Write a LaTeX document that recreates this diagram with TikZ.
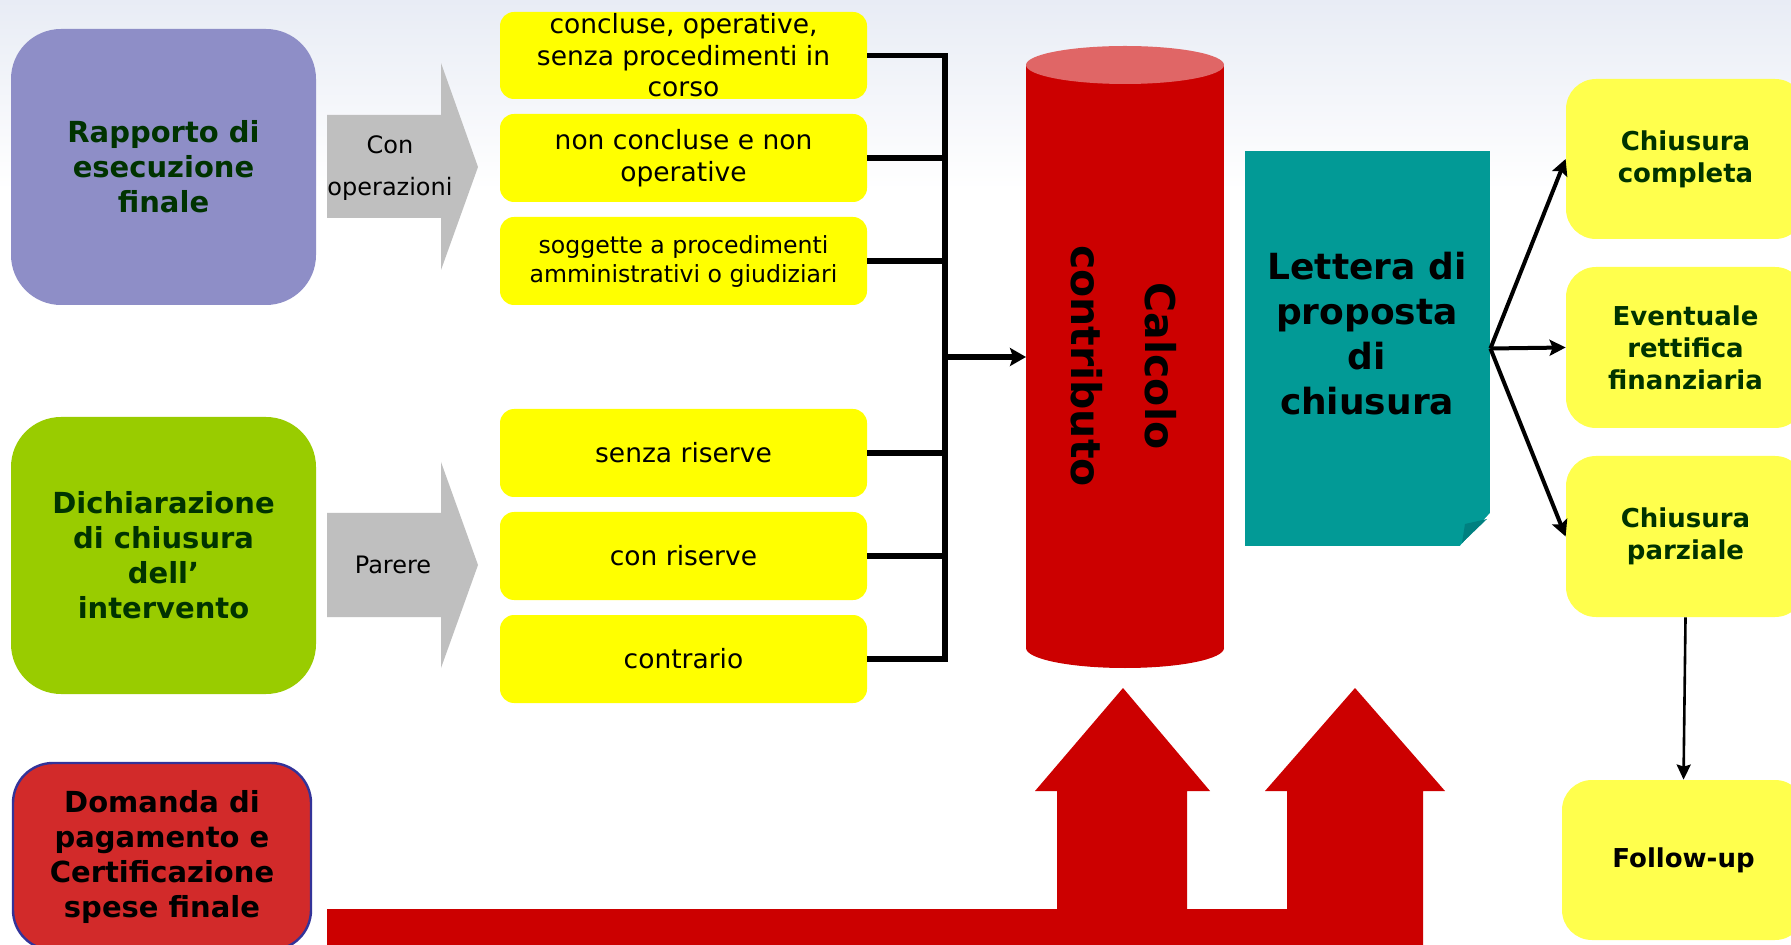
\documentclass[tikz,border=0pt]{standalone}
\usepackage{fontspec}
\setmainfont{DejaVu Sans}
\usetikzlibrary{arrows.meta}
\definecolor{purp}{RGB}{142,142,199}
\definecolor{grn}{RGB}{153,204,0}
\definecolor{redbox}{RGB}{210,42,42}
\definecolor{redborder}{RGB}{51,51,153}
\definecolor{ylw}{RGB}{255,255,0}
\definecolor{ylw2}{RGB}{255,255,77}
\definecolor{dkgreen}{RGB}{0,51,0}
\definecolor{grayarr}{RGB}{191,191,191}
\definecolor{cylred}{RGB}{204,0,0}
\definecolor{cyltop}{RGB}{224,102,102}
\definecolor{teal2}{RGB}{2,154,150}
\definecolor{tealdk}{RGB}{0,128,128}
\definecolor{bgtop}{RGB}{232,236,245}
\begin{document}
\begin{tikzpicture}[x=0.5pt,y=-0.5pt,
  bigbox/.style={rounded corners=25pt, inner sep=0pt, minimum width=152.5pt, align=center,
    font=\fontsize{14.5}{17.5}\selectfont\bfseries, text=dkgreen},
  ybox/.style={fill=ylw, rounded corners=7pt, inner sep=0pt, minimum width=183.5pt,
    minimum height=44pt, align=center, font=\fontsize{13.25}{16}\selectfont},
  rbox/.style={fill=ylw2, rounded corners=15pt, inner sep=0pt, minimum width=119.5pt,
    minimum height=80pt, align=center, font=\fontsize{13}{16}\selectfont\bfseries, text=dkgreen},
  link/.style={line width=2.8pt, line join=miter},
  outarrow/.style={line width=2pt, -{Stealth[length=8pt,width=8pt,inset=1.5pt]}},
]
\useasboundingbox (0,0) rectangle (1791,945);
\fill[white] (0,0) rectangle (1791,945);
\shade[top color=bgtop, bottom color=white] (0,0) rectangle (1791,190);

% left boxes
\node[bigbox, fill=purp, minimum height=138pt] (rap) at (163.5,167) {Rapporto di\\esecuzione\\finale};
\node[bigbox, fill=grn, minimum height=138.5pt] (dic) at (163.5,555.5) {Dichiarazione\\di chiusura\\dell’\\intervento};
\node[bigbox, fill=redbox, draw=redborder, line width=1.2pt, rounded corners=20pt,
  minimum width=149pt, minimum height=93.5pt, text=black] (dom) at (162,856.5)
  {Domanda di\\pagamento e\\Certificazione\\spese finale};

% gray arrows
\fill[grayarr] (327,115) -- (441,115) -- (441,63) -- (478,167) -- (441,270) -- (441,218) -- (327,218) -- cycle;
\node[font=\fontsize{12}{21}\selectfont, align=center, inner sep=0pt] (con) at (390,168) {Con\\operazioni};
\fill[grayarr] (327,513) -- (441,513) -- (441,462) -- (478,565) -- (441,668) -- (441,617) -- (327,617) -- cycle;
\node[font=\fontsize{12}{14}\selectfont, inner sep=0pt] (par) at (393,565) {Parere};

% yellow boxes
\node[ybox, font=\fontsize{13.25}{15.75}\selectfont, minimum height=43.5pt] (b1) at (683.5,55.5) {concluse, operative,\\senza procedimenti in\\corso};
\node[ybox] (b2) at (683.5,158) {non concluse e non\\operative};
\node[ybox, font=\fontsize{11.8}{14.5}\selectfont] (b3) at (683.5,261) {soggette a procedimenti\\amministrativi o giudiziari};
\node[ybox] (b4) at (683.5,453) {senza riserve};
\node[ybox] (b5) at (683.5,556) {con riserve};
\node[ybox] (b6) at (683.5,659) {contrario};

% bracket
\coordinate (bx) at (945,357);
\coordinate (cylL) at (1026,357);
\draw[link] (b1.east) -| (bx |- b6.east) -- (b6.east);
\foreach \b in {b2,b3,b4,b5} \draw[link] (\b.east) -- (bx |- \b.east);
\draw[line width=2.8pt, -{Stealth[length=8pt,width=9pt,inset=1.5pt]}] (bx) -- (cylL);

% cylinder
\fill[cylred] (1026,65) rectangle (1224,648);
\fill[cylred] (1125,648) ellipse [x radius=49.5pt, y radius=10pt];
\fill[cyltop] (1125,65) ellipse [x radius=49.5pt, y radius=9.5pt];
\node[rotate=-90, font=\fontsize{20.5}{37}\selectfont\bfseries, align=center, inner sep=0pt] (calc) at (1124,366) {Calcolo\\contributo};

% lettera
\node[fill=teal2, minimum width=122.5pt, minimum height=197.5pt, inner sep=0pt] (let) at (1367.5,348.5) {};
\fill[white] (1490,513) -- (1492,548) -- (1458,548) -- cycle;
\fill[tealdk] (1465,524) -- (1487,519) -- (1462,543) -- cycle;
\node[font=\fontsize{18}{22.5}\selectfont\bfseries, align=center, inner sep=0pt] (lett) at (1367,334) {Lettera di\\proposta\\di\\chiusura};

% right boxes
\node[rbox] (cc) at (1685.5,159) {Chiusura\\completa};
\node[rbox, minimum height=80.5pt] (er) at (1685.5,347.5) {Eventuale\\rettifica\\finanziaria};
\node[rbox, minimum height=80.5pt] (cp) at (1685.5,536.5) {Chiusura\\parziale};
\node[rbox, text=black, minimum width=121.5pt] (fu) at (1683.5,860) {Follow-up};

\draw[outarrow] (let.east) -- (cc.west);
\draw[outarrow] (let.east) -- (er.west);
\draw[outarrow] (let.east) -- (cp.west);
\draw[line width=1.3pt, -{Stealth[length=7.5pt,width=7pt,inset=1pt]}] (cp.south) -- (fu.north);

% red bottom arrows
\fill[cylred] (327,909) -- (1057,909) -- (1057,791) -- (1035,791) -- (1123,688) -- (1210,791)
  -- (1187,791) -- (1187,909) -- (1287,909) -- (1287,791) -- (1265,791) -- (1355,688)
  -- (1445,791) -- (1423,791) -- (1423,950) -- (327,950) -- cycle;
\end{tikzpicture}
\end{document}
